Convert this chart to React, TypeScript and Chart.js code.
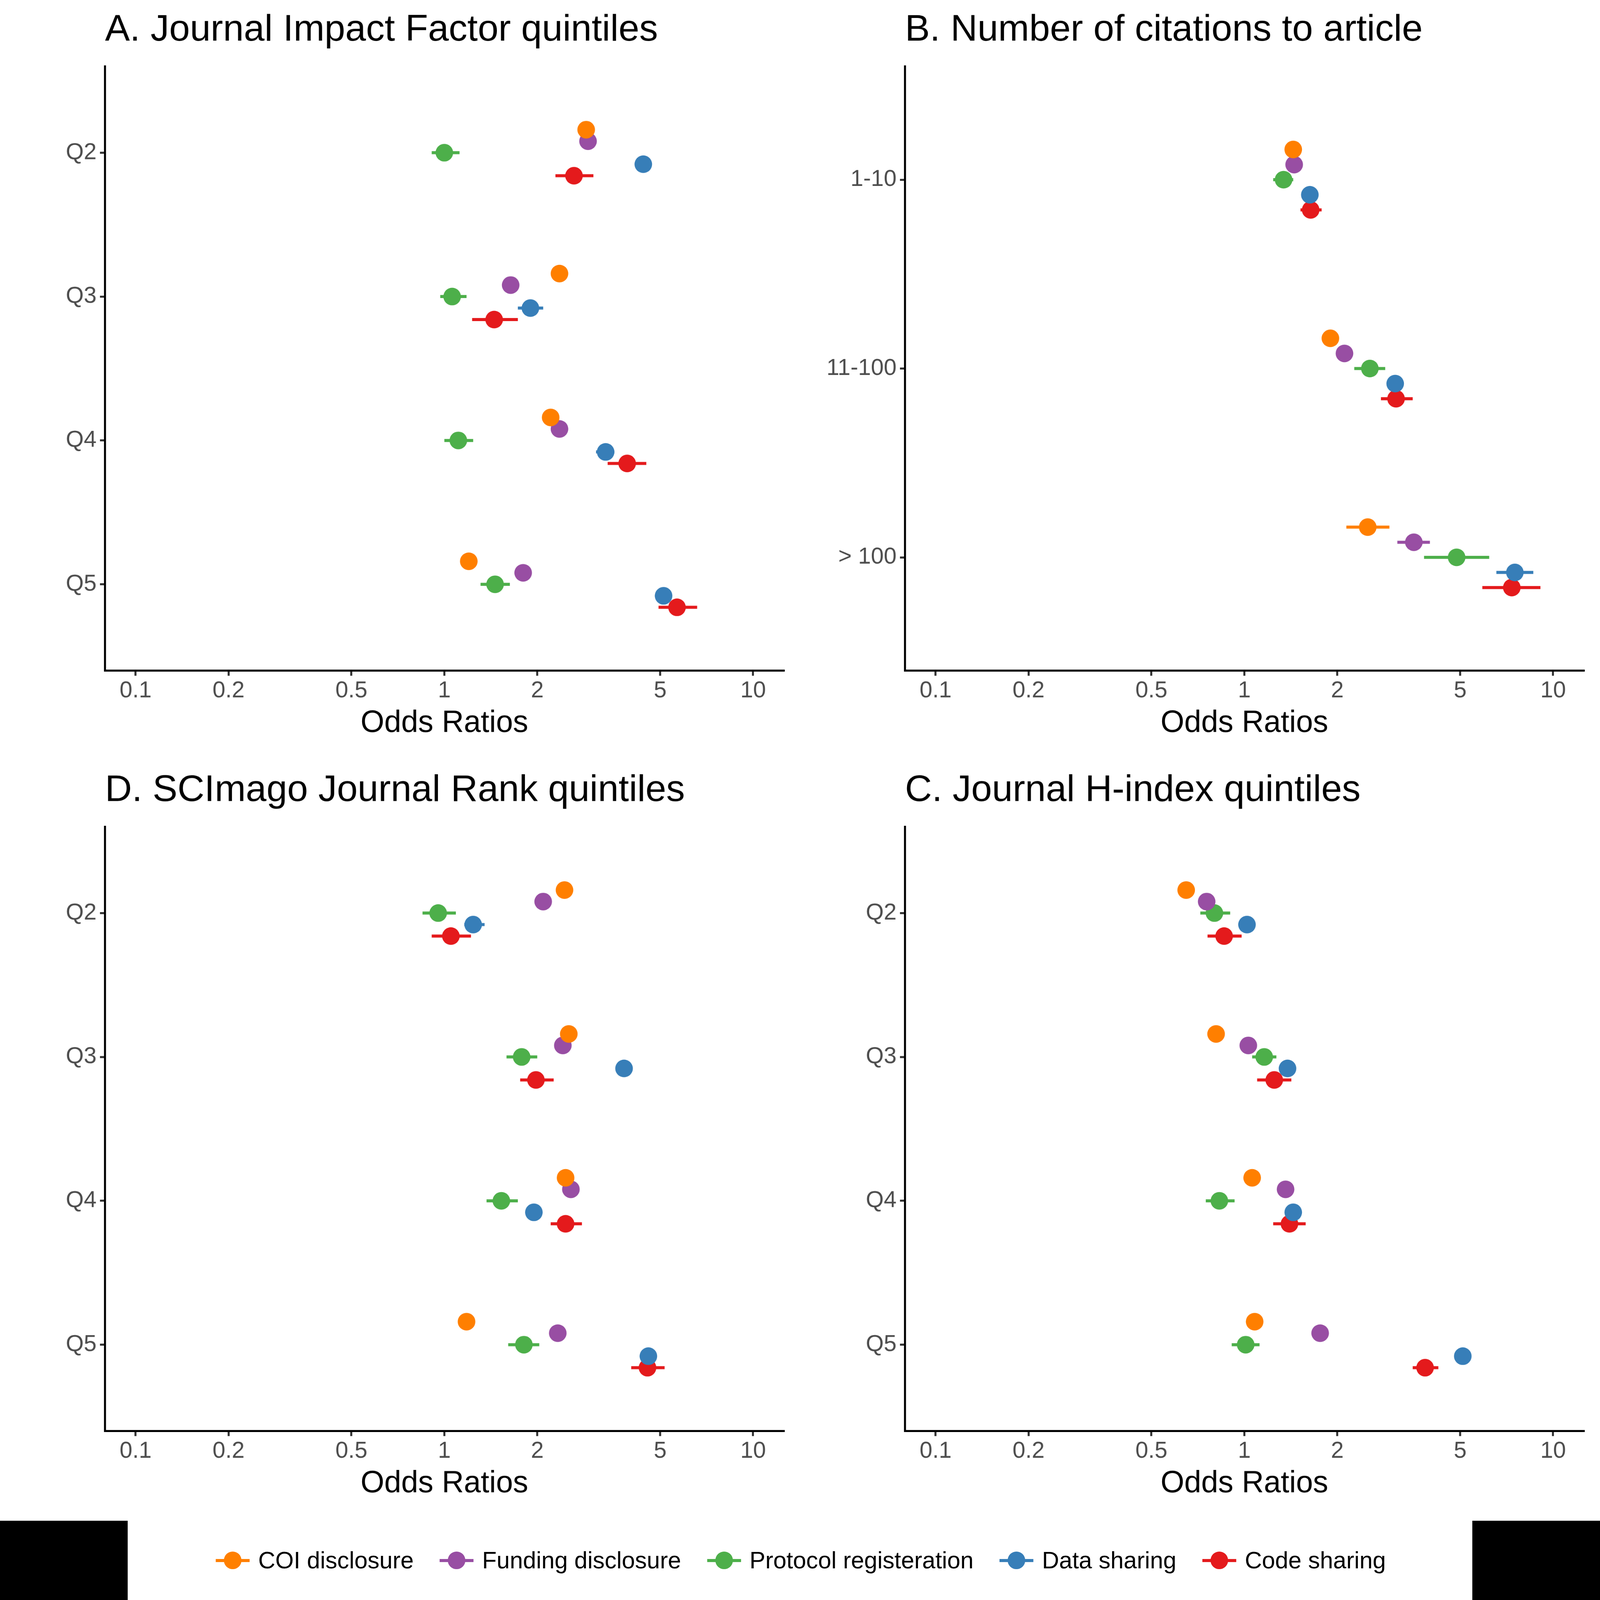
import React, { useEffect, useRef } from "react";
import { Chart, registerables } from "chart.js";
Chart.register(...registerables);

const seriesNames = ["COI disclosure", "Funding disclosure", "Protocol registeration", "Data sharing", "Code sharing"];
const colors = ["#FF7F00", "#984EA3", "#4DAF4A", "#377EB8", "#E41A1C"];
const offsets = [-0.16, -0.08, 0, 0.08, 0.16];
const xTicks = [0.1, 0.2, 0.5, 1, 2, 5, 10];

const catQ = ["Q2", "Q3", "Q4", "Q5"];
const catCit = ["1-10", "11-100", "> 100"];

// [est, lo, hi] per series per category
const aCOI = [[2.88, 2.88, 2.88], [2.36, 2.36, 2.36], [2.21, 2.21, 2.21], [1.2, 1.2, 1.2]];
const aFund = [[2.92, 2.92, 2.92], [1.64, 1.64, 1.64], [2.36, 2.36, 2.36], [1.8, 1.8, 1.8]];
const aProt = [[1.0, 0.91, 1.12], [1.06, 0.97, 1.18], [1.11, 1.0, 1.24], [1.46, 1.31, 1.63]];
const aData = [[4.41, 4.41, 4.41], [1.9, 1.73, 2.09], [3.33, 3.1, 3.55], [5.13, 5.13, 5.13]];
const aCode = [[2.63, 2.29, 3.04], [1.45, 1.23, 1.73], [3.91, 3.38, 4.51], [5.67, 4.94, 6.59]];

const bCOI = [[1.44, 1.44, 1.44], [1.9, 1.9, 1.9], [2.51, 2.14, 2.95]];
const bFund = [[1.45, 1.45, 1.45], [2.11, 2.11, 2.11], [3.54, 3.13, 3.99]];
const bProt = [[1.34, 1.24, 1.44], [2.55, 2.27, 2.86], [4.87, 3.82, 6.21]];
const bData = [[1.63, 1.63, 1.63], [3.08, 3.08, 3.08], [7.52, 6.55, 8.63]];
const bCode = [[1.64, 1.52, 1.78], [3.1, 2.77, 3.51], [7.35, 5.9, 9.1]];

const dCOI = [[2.45, 2.45, 2.45], [2.53, 2.53, 2.53], [2.47, 2.47, 2.47], [1.18, 1.18, 1.18]];
const dFund = [[2.09, 2.09, 2.09], [2.42, 2.42, 2.42], [2.57, 2.57, 2.57], [2.33, 2.33, 2.33]];
const dProt = [[0.955, 0.85, 1.09], [1.78, 1.59, 2.0], [1.53, 1.37, 1.73], [1.81, 1.61, 2.03]];
const dData = [[1.24, 1.16, 1.35], [3.82, 3.82, 3.82], [1.95, 1.95, 1.95], [4.58, 4.58, 4.58]];
const dCode = [[1.05, 0.91, 1.22], [1.98, 1.76, 2.26], [2.47, 2.21, 2.79], [4.55, 4.03, 5.17]];

const cCOI = [[0.648, 0.648, 0.648], [0.81, 0.81, 0.81], [1.06, 1.06, 1.06], [1.08, 1.08, 1.08]];
const cFund = [[0.755, 0.755, 0.755], [1.03, 1.03, 1.03], [1.36, 1.36, 1.36], [1.76, 1.76, 1.76]];
const cProt = [[0.8, 0.72, 0.9], [1.16, 1.06, 1.27], [0.83, 0.75, 0.93], [1.01, 0.91, 1.12]];
const cData = [[1.02, 1.02, 1.02], [1.38, 1.38, 1.38], [1.44, 1.44, 1.44], [5.1, 5.1, 5.1]];
const cCode = [[0.86, 0.76, 0.98], [1.25, 1.1, 1.42], [1.4, 1.24, 1.58], [3.85, 3.51, 4.25]];

const FONT = "'Liberation Sans', Arial, sans-serif";
const W = 2362, H = 2245;

function Panel({ title, cats, series, left, top }: any) {
  const ref = useRef<HTMLCanvasElement>(null);
  useEffect(() => {
    const datasets = series.map((s: number[][], i: number) => ({
      label: seriesNames[i],
      data: s.map((v, j) => ({ x: v[0], y: j + 1 + offsets[i], lo: v[1], hi: v[2] })),
      backgroundColor: colors[i],
      borderColor: colors[i],
      pointRadius: 26,
      pointBorderWidth: 0,
      showLine: false,
    }));
    const errPlugin = {
      id: "err",
      beforeDatasetsDraw(chart: any) {
        const ctx = chart.ctx, xs = chart.scales.x, ys = chart.scales.y;
        chart.data.datasets.forEach((ds: any) => {
          ctx.save();
          ctx.strokeStyle = ds.borderColor;
          ctx.lineWidth = 9;
          ds.data.forEach((p: any) => {
            const y = ys.getPixelForValue(p.y);
            ctx.beginPath();
            ctx.moveTo(xs.getPixelForValue(p.lo), y);
            ctx.lineTo(xs.getPixelForValue(p.hi), y);
            ctx.stroke();
          });
          ctx.restore();
        });
      },
      afterDraw(chart: any) {
        const ctx = chart.ctx;
        ctx.save();
        ctx.fillStyle = "#000";
        ctx.font = `110px ${FONT}`;
        ctx.textBaseline = "middle";
        ctx.textAlign = "left";
        ctx.fillText(title, chart.chartArea.left, 90);
        ctx.restore();
      },
    };
    const chart = new Chart(ref.current!, {
      type: "scatter",
      data: { datasets },
      plugins: [errPlugin],
      options: {
        animation: false,
        responsive: false,
        devicePixelRatio: 1,
        layout: { padding: { top: 196, right: 48, left: 0, bottom: 55 } },
        plugins: { legend: { display: false }, tooltip: { enabled: false } },
        scales: {
          x: {
            type: "logarithmic",
            min: 0.0796,
            max: 12.57,
            afterBuildTicks: (s: any) => { s.ticks = xTicks.map((v) => ({ value: v })); },
            afterFit: (s: any) => { s.height = 210; },
            ticks: { color: "#4D4D4D", font: { size: 68, family: FONT }, padding: 4, maxRotation: 0, autoSkip: false, callback: (v: any) => String(v) },
            grid: { drawOnChartArea: false, color: "#333", lineWidth: 6, tickLength: 15 },
            border: { display: true, color: "#000", width: 6 },
            title: { display: true, text: "Odds Ratios", color: "#000", font: { size: 90, family: FONT }, padding: { top: 0, bottom: 0 } },
          },
          y: {
            type: "linear",
            reverse: true,
            min: 0.4,
            max: cats.length + 0.6,
            afterBuildTicks: (s: any) => { s.ticks = cats.map((_: any, i: number) => ({ value: i + 1 })); },
            afterFit: (s: any) => { s.width = 310; },
            ticks: { color: "#4D4D4D", font: { size: 68, family: FONT }, padding: 10, callback: (v: any) => cats[Math.round(v) - 1] ?? "" },
            grid: { drawOnChartArea: false, color: "#333", lineWidth: 6, tickLength: 15 },
            border: { display: true, color: "#000", width: 6 },
          },
        },
      } as any,
    });
    return () => chart.destroy();
  }, []);
  return (
    <div style={{ position: "absolute", left, top, width: W, height: H, overflow: "hidden" }}>
      <canvas ref={ref} width={W} height={H} style={{ display: "block", width: W, height: H }} />
    </div>
  );
}

export default function App() {
  useEffect(() => { document.body.style.margin = "0"; document.body.style.overflow = "hidden"; }, []);
  const s = (typeof window !== "undefined" && window.innerWidth ? Math.min(window.innerWidth, window.innerHeight) : 4724) / 4724;
  return (
    <div style={{ width: 4724 * s, height: 4724 * s, overflow: "hidden" }}>
      <div style={{ position: "relative", width: 4724, height: 4724, background: "#fff", fontFamily: FONT, transform: `scale(${s})`, transformOrigin: "0 0" }}>
        <Panel title="A. Journal Impact Factor quintiles" cats={catQ} series={[aCOI, aFund, aProt, aData, aCode]} left={0} top={0} />
        <Panel title="B. Number of citations to article" cats={catCit} series={[bCOI, bFund, bProt, bData, bCode]} left={2362} top={0} />
        <Panel title="D. SCImago Journal Rank quintiles" cats={catQ} series={[dCOI, dFund, dProt, dData, dCode]} left={0} top={2245} />
        <Panel title="C. Journal H-index quintiles" cats={catQ} series={[cCOI, cFund, cProt, cData, cCode]} left={2362} top={2245} />
        <div style={{ position: "absolute", left: 0, top: 4490, width: 4724, height: 234, display: "flex" }}>
          <div style={{ width: 377, background: "#000" }} />
          <div style={{ flex: 1, display: "flex", alignItems: "center", justifyContent: "center", gap: 72 }}>
            {seriesNames.map((n, i) => (
              <div key={n} style={{ display: "flex", alignItems: "center" }}>
                <div style={{ position: "relative", width: 110, height: 70 }}>
                  <div style={{ position: "absolute", left: 5, right: 5, top: 31, height: 9, background: colors[i] }} />
                  <div style={{ position: "absolute", left: 29, top: 9, width: 52, height: 52, borderRadius: "50%", background: colors[i] }} />
                </div>
                <span style={{ fontSize: 70, marginLeft: 20, color: "#000" }}>{n}</span>
              </div>
            ))}
          </div>
          <div style={{ width: 377, background: "#000" }} />
        </div>
      </div>
    </div>
  );
}
